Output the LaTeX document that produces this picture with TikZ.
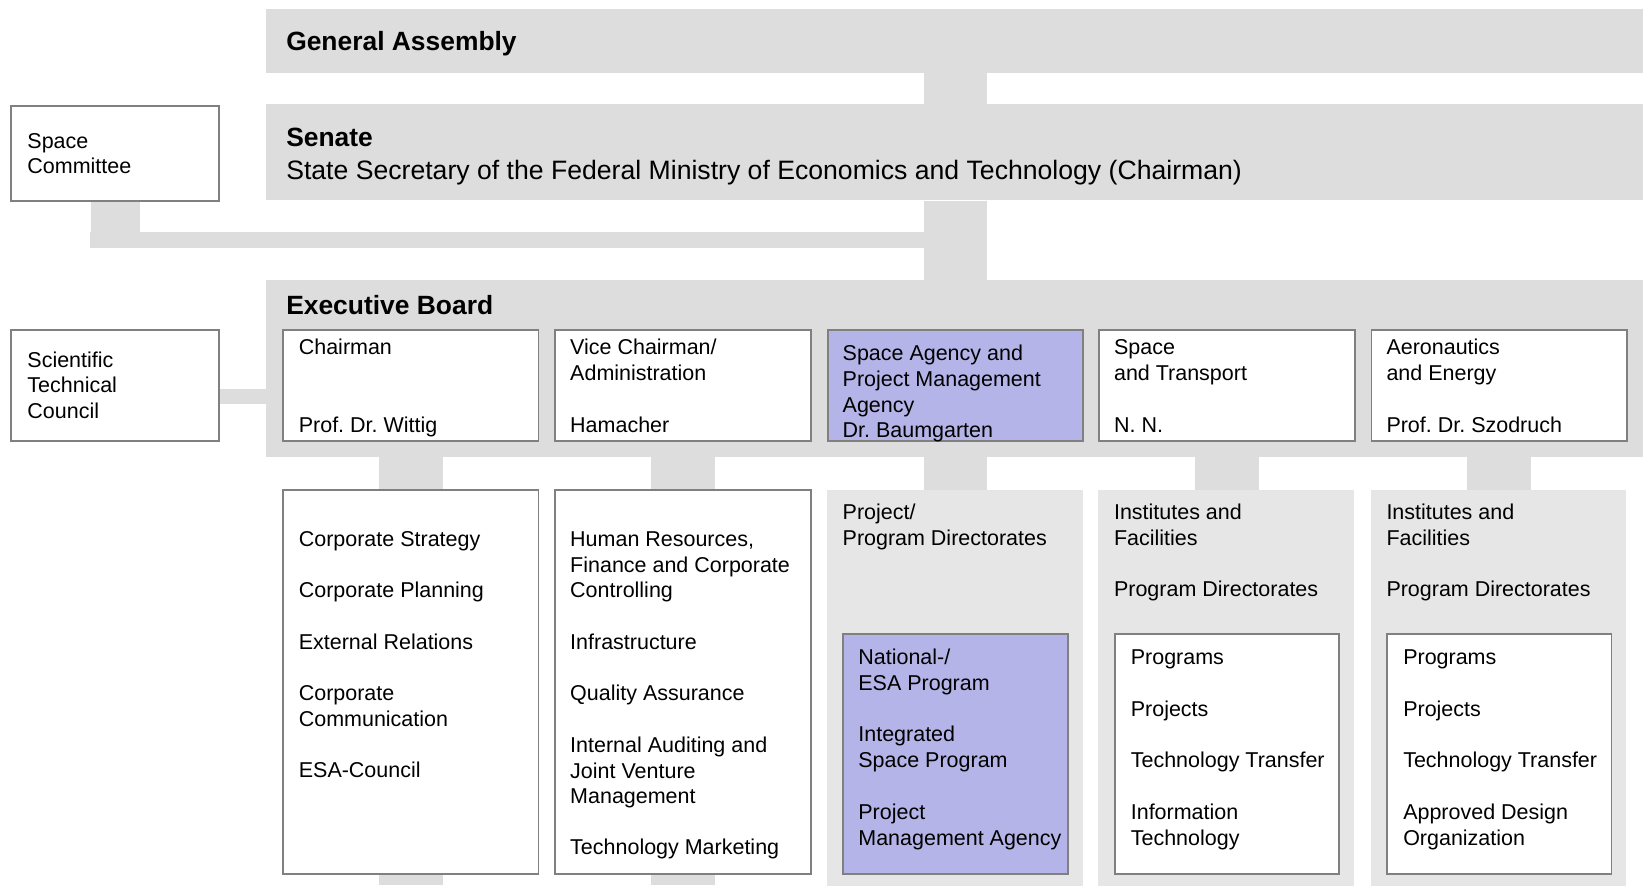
\documentclass[tikz,border=0pt]{standalone}
\usepackage{fontspec}
\setmainfont{Liberation Sans}
\usetikzlibrary{backgrounds}
\definecolor{bargray}{RGB}{221,221,221}
\definecolor{panelgray}{RGB}{230,230,230}
\definecolor{edgegray}{RGB}{128,128,128}
\definecolor{lavender}{RGB}{180,180,232}
\frenchspacing
\begin{document}
\begin{tikzpicture}[x=1pt,y=-1pt,
  bar/.style={fill=bargray,draw=none,inner sep=0,anchor=north west},
  panel/.style={fill=panelgray,draw=none,inner sep=0,anchor=north west},
  wbox/.style={fill=white,draw=edgegray,line width=1.8pt,inner sep=0,anchor=north west},
  pbox/.style={fill=lavender,draw=edgegray,line width=1.8pt,inner sep=0,anchor=north west},
  exbox/.style={minimum width=244pt,minimum height=106pt},
  link/.style={draw=bargray},
  txt/.style={anchor=base west,inner sep=0,font=\fontsize{20.5}{24.5}\selectfont},
  ttl/.style={anchor=base west,inner sep=0,font=\bfseries\fontsize{25.2}{29}\selectfont},
  subttl/.style={anchor=base west,inner sep=0,font=\fontsize{25.4}{29}\selectfont}]
\useasboundingbox (0,0) rectangle (1568,845);

% bars
\node[bar,minimum width=1314pt,minimum height=61pt] (ga) at (254,8) {};
\node[bar,minimum width=1314pt,minimum height=92pt] (senate) at (254,99) {};
\node[bar,minimum width=1314pt,minimum height=169pt] (eb) at (254,267) {};
% side boxes
\node[wbox,minimum width=198pt,minimum height=91pt] (sc) at (10,100) {};
\node[wbox,minimum width=198pt,minimum height=106pt] (stc) at (10,314) {};
% executive board members
\node[wbox,exbox] (ex1) at (269,314) {};
\node[wbox,exbox] (ex2) at (529,314) {};
\node[pbox,exbox] (ex3) at (789,314) {};
\node[wbox,exbox] (ex4) at (1048,314) {};
\node[wbox,exbox] (ex5) at (1308,314) {};
% lower columns
\node[wbox,minimum width=244pt,minimum height=366pt] (lo1) at (269,467) {};
\node[wbox,minimum width=244pt,minimum height=366pt] (lo2) at (529,467) {};
\node[panel,minimum width=244pt,minimum height=378pt] (lo3) at (789,467) {};
\node[panel,minimum width=244pt,minimum height=378pt] (lo4) at (1048,467) {};
\node[panel,minimum width=244pt,minimum height=378pt] (lo5) at (1308,467) {};
\node[pbox,minimum width=214pt,minimum height=229pt] (in3) at (804,604) {};
\node[wbox,minimum width=214pt,minimum height=229pt] (in4) at (1063,604) {};
\node[wbox,minimum width=214pt,minimum height=229pt] (in5) at (1323,604) {};

% connectors
\begin{pgfonlayer}{background}
\coordinate (scb) at (109.5,237);
\coordinate (scl) at (86,229);
\coordinate (stcl) at (0,378.5);
\coordinate (bot) at (0,845);
\draw[link,line width=61pt] (ga.south -| ex3.north) -- (senate.north -| ex3.north);
\draw[link,line width=61pt] (senate.south -| ex3.north) -- (eb.north -| ex3.north);
\draw[link,line width=47pt] (sc.south) -- (sc.south |- scb);
\draw[link,line width=16pt] (scl) -- (scl -| ex3.north);
\draw[link,line width=15pt] (stcl -| stc.east) -- (stcl -| eb.west);
\foreach \i in {1,...,5} \draw[link,line width=61pt] (ex\i.south) -- (ex\i.south |- bot);
\end{pgfonlayer}

% titles
\node[ttl] (tga) at (273,48.4) {General Assembly};
\node[ttl] (tsen) at (273,140) {Senate};
\node[subttl] (tsen2) at (273,171) {State Secretary of the Federal Ministry of Economics and Technology (Chairman)};
\node[ttl] (teb) at (273,300.6) {Executive Board};

% side boxes text
\node[txt] (sc1) at (26,141.5) {Space};
\node[txt] (sc2) at (26,166) {Committee};
\node[txt] (stc1) at (26,350.5) {Scientific};
\node[txt] (stc2) at (26,375) {Technical};
\node[txt] (stc3) at (26,399.5) {Council};

% executive members text
\node[txt] (e11) at (285,338.5) {Chairman};
\node[txt] (e12) at (285,412.5) {Prof. Dr. Wittig};
\node[txt] (e21) at (544,338.5) {Vice Chairman/};
\node[txt] (e22) at (544,363) {Administration};
\node[txt] (e23) at (544,412.5) {Hamacher};
\node[txt] (e31) at (804,344.5) {Space Agency and};
\node[txt] (e32) at (804,369) {Project Management};
\node[txt] (e33) at (804,393.5) {Agency};
\node[txt] (e34) at (804,417.5) {Dr. Baumgarten};
\node[txt] (e41) at (1063,338.5) {Space};
\node[txt] (e42) at (1063,363) {and Transport};
\node[txt] (e43) at (1063,412.5) {N. N.};
\node[txt] (e51) at (1323,338.5) {Aeronautics};
\node[txt] (e52) at (1323,363) {and Energy};
\node[txt] (e53) at (1323,412.5) {Prof. Dr. Szodruch};

% column 1
\node[txt] (l11) at (285,521.5) {Corporate Strategy};
\node[txt] (l12) at (285,570.5) {Corporate Planning};
\node[txt] (l13) at (285,619.5) {External Relations};
\node[txt] (l14) at (285,668.5) {Corporate};
\node[txt] (l15) at (285,693) {Communication};
\node[txt] (l16) at (285,742) {ESA-Council};
% column 2
\node[txt] (l21) at (544,521.5) {Human Resources,};
\node[txt] (l22) at (544,546) {Finance and Corporate};
\node[txt] (l23) at (544,570.5) {Controlling};
\node[txt] (l24) at (544,619.5) {Infrastructure};
\node[txt] (l25) at (544,668.5) {Quality Assurance};
\node[txt] (l26) at (544,718) {Internal Auditing and};
\node[txt] (l27) at (544,742.5) {Joint Venture};
\node[txt] (l28) at (544,767) {Management};
\node[txt] (l29) at (544,815.5) {Technology Marketing};
% column 3
\node[txt] (l31) at (804,496) {Project/};
\node[txt] (l32) at (804,520.5) {Program Directorates};
\node[txt] (i31) at (819,634.5) {National-/};
\node[txt] (i32) at (819,659) {ESA Program};
\node[txt] (i33) at (819,708) {Integrated};
\node[txt] (i34) at (819,732.5) {Space Program};
\node[txt] (i35) at (819,782) {Project};
\node[txt] (i36) at (819,806.5) {Management Agency};
% column 4
\node[txt] (l41) at (1063,496) {Institutes and};
\node[txt] (l42) at (1063,520.5) {Facilities};
\node[txt] (l43) at (1063,569.5) {Program Directorates};
\node[txt] (i41) at (1079,634.5) {Programs};
\node[txt] (i42) at (1079,684) {Projects};
\node[txt] (i43) at (1079,732.5) {Technology Transfer};
\node[txt] (i44) at (1079,782) {Information};
\node[txt] (i45) at (1079,806.5) {Technology};
% column 5
\node[txt] (l51) at (1323,496) {Institutes and};
\node[txt] (l52) at (1323,520.5) {Facilities};
\node[txt] (l53) at (1323,569.5) {Program Directorates};
\node[txt] (i51) at (1339,634.5) {Programs};
\node[txt] (i52) at (1339,684) {Projects};
\node[txt] (i53) at (1339,732.5) {Technology Transfer};
\node[txt] (i54) at (1339,782) {Approved Design};
\node[txt] (i55) at (1339,806.5) {Organization};
\end{tikzpicture}
\end{document}
